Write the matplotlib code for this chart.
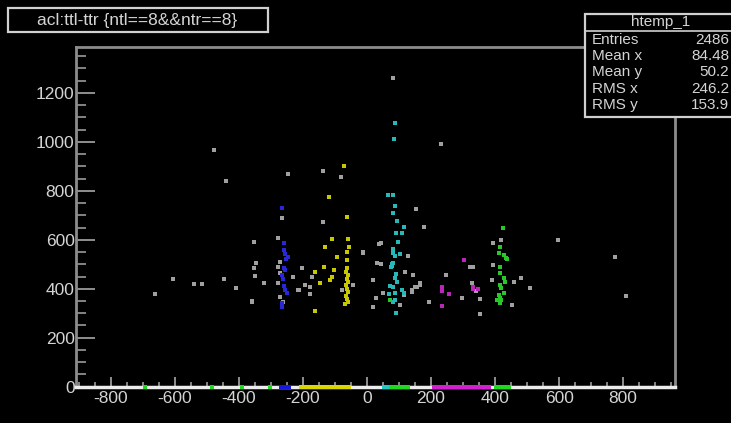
import numpy as np
import matplotlib
matplotlib.use("Agg")
import matplotlib.pyplot as plt
from matplotlib.patches import Rectangle
from matplotlib.lines import Line2D
from matplotlib.ticker import MultipleLocator

plt.rcParams['font.family'] = ['Liberation Sans', 'DejaVu Sans']
plt.rcParams['axes.unicode_minus'] = False

# scatter points (x = ttl-ttr, y = acl)
gray_x = [-478, -441, -246, -265, -354, -279, -348, -354, -350, -321, -358, -409, -448,
          -540, -515, -605, -663, -215, -136, -82, -138, -13, -232, -211, -194, -178,
          -178, -173, -204, -45, -79, 18, 28, 18, 30, 38, -360, 82, 231, 153, 179, 44,
          129, -14, 43, 51, 194, 247, 296, 322, 332, 327, 353, 353, 595, 420, 395, 393,
          458, 481, 509, 452, 389, 341, 150, 166, 140, 775, 808, 119, 145, 140, 155,
          166, 114, 103, -272, -277, -272, -277, -272, -263]
gray_y = [967, 841, 869, 689, 591, 606, 507, 484, 452, 425, 349, 404, 440,
          418, 418, 439, 378, 395, 882, 858, 674, 547, 449, 395, 415, 408,
          379, 449, 484, 415, 395, 436, 361, 324, 504, 583, 347, 1260, 991, 726, 654, 586,
          534, 549, 501, 381, 345, 456, 361, 490, 490, 425, 357, 297, 600, 599, 586, 497,
          429, 443, 404, 334, 436, 392, 406, 415, 388, 531, 370, 470, 456, 395, 408,
          422, 375, 334, 511, 490, 463, 422, 368, 347]

blue_x = [-265, -258, -256, -246, -253, -258, -256, -267, -262, -256, -250, -258, -267, -267, -260]
blue_y = [730, 586, 541, 531, 520, 484, 477, 456, 440, 395, 381, 410, 340, 327, 560]

yellow_x = [-71, -118, -63, -110, -58, -131, -55, -95, -63, -133, -104, -162, -147, -116,
            -110, -164, -63, -62, -66, -60, -64, -58, -66, -62, -60, -66, -62, -58, -68]
yellow_y = [901, 774, 694, 602, 602, 572, 572, 528, 517, 490, 477, 467, 425, 436,
            449, 309, 551, 485, 470, 455, 440, 428, 415, 400, 385, 372, 358, 345, 338]

cyan_x = [86, 83, 65, 82, 86, 82, 95, 114, 91, 108, 96, 82, 103, 88, 77, 74,
          82, 80, 77, 91, 88, 93, 72, 82, 108, 70, 88, 114, 82, 88, 91]
cyan_y = [1076, 1010, 783, 783, 739, 708, 677, 654, 627, 629, 592, 562, 542, 534, 501, 490,
          545, 504, 493, 459, 443, 429, 411, 408, 395, 379, 384, 381, 347, 354, 300]

magenta_x = [233, 233, 257, 233, 304, 332, 348, 330]
magenta_y = [408, 392, 377, 330, 518, 398, 398, 406]

green_x = [424, 437, 72, 416, 411, 427, 434, 416, 414, 427, 431, 416, 420, 411, 416, 427, 405, 420, 416]
green_y = [650, 522, 354, 572, 545, 538, 524, 490, 463, 443, 429, 415, 402, 375, 361, 381, 354, 354, 341]

# entries sitting on acl == 0
zero_blue = [-268, -260, -252, -245]
zero_yellow = [-205, -195, -185, -175, -165, -155, -145, -135, -125, -115, -105, -95, -85, -75, -65, -55]
zero_cyan = [52, 60, 68]
zero_green = [-695, -484, -390, -303, 76, 84, 92, 100, 108, 116, 122, 128, 402, 410, 418, 426, 434, 442]
zero_magenta = [208, 218, 228, 238, 248, 258, 268, 278, 288, 298, 308, 318, 328, 338, 348, 358, 368, 380]

stat_names = ["Entries", "Mean x", "Mean y", "RMS x", "RMS y"]
stat_values = ["2486", "84.48", "50.2", "246.2", "153.9"]

W, H = 731, 423
fig = plt.figure(figsize=(W / 100, H / 100), dpi=100, facecolor='black')
ax = fig.add_axes([76 / W, 1 - 386.7 / H, (675 - 76) / W, (386.7 - 47.3) / H])
ax.set_facecolor('black')

ms = 6
ax.scatter(gray_x, gray_y, s=ms, marker='s', c='#a0a0a0', linewidths=0)
ax.scatter(blue_x, blue_y, s=ms, marker='s', c='#2828d8', linewidths=0)
ax.scatter(yellow_x, yellow_y, s=ms, marker='s', c='#c8c800', linewidths=0)
ax.scatter(cyan_x, cyan_y, s=ms, marker='s', c='#28b8b8', linewidths=0)
ax.scatter(magenta_x, magenta_y, s=ms, marker='s', c='#b828b8', linewidths=0)
ax.scatter(green_x, green_y, s=ms, marker='s', c='#28c828', linewidths=0)

for xs, col in [(zero_blue, '#1818e0'), (zero_yellow, '#d8d800'), (zero_cyan, '#20c8c8'),
                (zero_green, '#20d820'), (zero_magenta, '#d020d0')]:
    ax.scatter(xs, np.zeros(len(xs)), s=9, marker='s', c=col, linewidths=0,
               clip_on=False, zorder=5)

ax.set_xlim(-909, 962)
ax.set_ylim(0, 1386)

for side in ['left', 'top', 'right']:
    ax.spines[side].set_color('#8c8c8c')
    ax.spines[side].set_linewidth(2)
ax.spines['bottom'].set_color('#ececec')
ax.spines['bottom'].set_linewidth(2.5)

ax.xaxis.set_major_locator(MultipleLocator(200))
ax.xaxis.set_minor_locator(MultipleLocator(50))
ax.yaxis.set_major_locator(MultipleLocator(200))
ax.yaxis.set_minor_locator(MultipleLocator(50))
ax.tick_params(axis='x', which='major', direction='in', length=7.2, width=1.3,
               color='#9a9a9a', labelcolor='#d4d4d4', labelsize=12.5, pad=3)
ax.tick_params(axis='x', which='minor', direction='in', length=3.6, width=1.2, color='#9a9a9a')
ax.tick_params(axis='y', which='major', direction='in', length=13.7, width=1.3,
               color='#9a9a9a', labelcolor='#d4d4d4', labelsize=12.5, pad=1)
ax.tick_params(axis='y', which='minor', direction='in', length=7.2, width=1.2, color='#9a9a9a')


def fx(px):
    return px / W


def fy(py):
    return 1 - py / H


# title box
fig.patches.append(Rectangle((fx(8), fy(32)), fx(268) - fx(8), fy(8) - fy(32),
                             transform=fig.transFigure, facecolor='black',
                             edgecolor='#d0d0d0', lw=1.6, zorder=10))
fig.text(fx(137), fy(20), "acl:ttl-ttr {ntl==8&&ntr==8}", color='#d4d4d4',
         fontsize=12.5, ha='center', va='center', zorder=11)

# stats box
fig.patches.append(Rectangle((fx(585), fy(117)), fx(733) - fx(585), fy(14) - fy(117),
                             transform=fig.transFigure, facecolor='black',
                             edgecolor='#d0d0d0', lw=1.6, zorder=10))
fig.lines.append(Line2D([fx(585), fx(731)], [fy(30.7), fy(30.7)], transform=fig.transFigure,
                        color='#d0d0d0', lw=1.2, zorder=11))
fig.text(fx(661), fy(22), "htemp_1", color='#d4d4d4', fontsize=11,
         ha='center', va='center', zorder=11)
for i, (name, val) in enumerate(zip(stat_names, stat_values)):
    yy = fy(39.5 + i * 16.4)
    fig.text(fx(592), yy, name, color='#d4d4d4', fontsize=11, ha='left', va='center', zorder=11)
    fig.text(fx(729), yy, val, color='#d4d4d4', fontsize=11, ha='right', va='center', zorder=11)

fig.savefig("out.png", dpi=100, facecolor='black')
